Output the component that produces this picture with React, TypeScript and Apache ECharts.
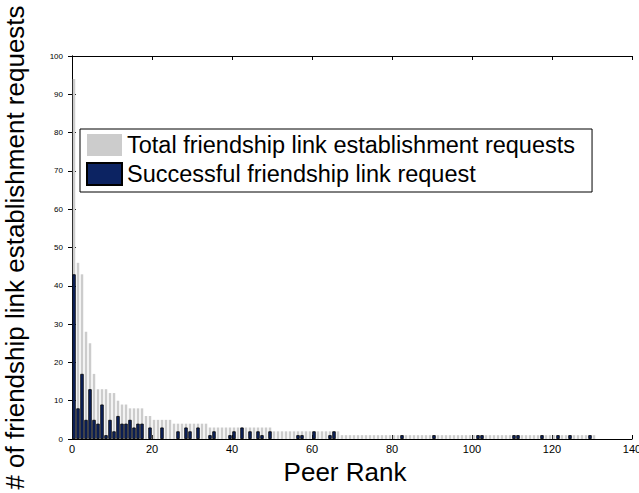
import React, { useEffect, useRef } from "react";
import * as echarts from "echarts";

// Peer ranks 1..131 (axis spans 0..140)
const totalRequests: number[] = [
  94, 46, 43, 28, 25, 17, 13, 13, 13, 12,
  12, 10, 9, 9, 8, 8, 8, 8, 6, 6,
  5, 5, 5, 5, 5, 4, 4, 4, 4, 4,
  4, 4, 4, 4, 3, 3, 3, 3, 3, 3,
  3, 3, 3, 3, 3, 3, 3, 3, 3, 3,
  2, 2, 2, 2, 2, 2, 2, 2, 2, 2,
  2, 2, 2, 2, 2, 2, 2, 1, 1, 1,
  1, 1, 1, 1, 1, 1, 1, 1, 1, 1,
  1, 1, 1, 1, 1, 1, 1, 1, 1, 1,
  1, 1, 1, 1, 1, 1, 1, 1, 1, 1,
  1, 1, 1, 1, 1, 1, 1, 1, 1, 1,
  1, 1, 1, 1, 1, 1, 1, 1, 1, 1,
  1, 1, 1, 1, 1, 1, 1, 1, 1, 1,
  1,
];

const successfulRequests: number[] = [
  43, 8, 17, 5, 13, 5, 4, 9, 1, 5,
  2, 6, 4, 4, 5, 3, 4, 4, 0, 3,
  0, 0, 3, 0, 0, 0, 2, 0, 3, 2,
  0, 3, 0, 0, 1, 2, 0, 0, 0, 1,
  2, 0, 3, 0, 2, 0, 2, 1, 0, 2,
  0, 0, 0, 0, 0, 0, 1, 1, 0, 0,
  2, 0, 0, 0, 1, 2, 0, 0, 0, 0,
  0, 0, 0, 0, 0, 0, 0, 0, 0, 0,
  0, 0, 1, 0, 0, 0, 0, 0, 0, 0,
  1, 0, 0, 0, 0, 0, 0, 0, 0, 0,
  0, 1, 1, 0, 0, 0, 0, 0, 0, 0,
  1, 1, 0, 0, 0, 0, 0, 1, 0, 0,
  0, 1, 0, 0, 1, 0, 0, 0, 0, 1,
  0,
];

const X_MAX = 140;
const Y_MAX = 100;
const ranks: number[] = Array.from({ length: X_MAX }, (_, i) => i + 1);

const seriesNames = [
  "Total friendship link establishment requests",
  "Successful friendship link request",
];

const FONT = "'Liberation Sans', Arial, Helvetica, sans-serif";
const W = 639;
const H = 493;

export default function App() {
  const ref = useRef<HTMLDivElement>(null);

  useEffect(() => {
    if (!ref.current) return;
    const chart = echarts.init(ref.current, undefined, { renderer: "svg", width: W, height: H });
    const frameAxis = {
      axisLine: { show: true, lineStyle: { color: "#000", width: 1 } },
      axisTick: { show: true, inside: true, length: 4, lineStyle: { color: "#000" } },
      splitLine: { show: false },
    };
    chart.setOption({
      animation: false,
      backgroundColor: "#fff",
      textStyle: { fontFamily: FONT, color: "#000" },
      grid: { left: 72, right: 7, top: 56, bottom: 54, containLabel: false, outerBoundsMode: "none" },
      legend: {
        show: true,
        orient: "vertical",
        left: 80,
        top: 129,
        data: seriesNames,
        icon: "rect",
        itemWidth: 35,
        itemHeight: 22,
        itemGap: 5,
        padding: [4, 17, 6, 6],
        borderColor: "#000",
        borderWidth: 1,
        backgroundColor: "#fff",
        textStyle: { fontFamily: FONT, fontSize: 23.5, color: "#000" },
      },
      xAxis: [
        { type: "category", data: ranks, show: false, boundaryGap: true, gridIndex: 0 },
        { type: "category", data: ranks, show: false, boundaryGap: true, gridIndex: 0 },
        {
          type: "value",
          position: "bottom",
          min: 0,
          max: X_MAX,
          interval: 20,
          ...frameAxis,
          axisLabel: { fontFamily: FONT, fontSize: 11, color: "#000", margin: 4 },
          name: "Peer Rank",
          nameLocation: "middle",
          nameGap: 13,
          nameTextStyle: {
            fontFamily: FONT,
            fontSize: 26,
            color: "#000",
            verticalAlign: "top",
            padding: [0, 14, 0, 0],
          },
        },
        {
          type: "value",
          position: "top",
          min: 0,
          max: X_MAX,
          interval: 20,
          ...frameAxis,
          axisLabel: { show: false },
        },
      ],
      yAxis: [
        {
          type: "value",
          position: "left",
          min: 0,
          max: Y_MAX,
          interval: 10,
          ...frameAxis,
          axisLabel: { fontFamily: FONT, fontSize: 8, color: "#000", margin: 9 },
          name: "# of friendship link establishment requests",
          nameLocation: "middle",
          nameRotate: 90,
          nameGap: 44,
          nameTextStyle: { fontFamily: FONT, fontSize: 26, color: "#000" },
        },
        {
          type: "value",
          position: "right",
          min: 0,
          max: Y_MAX,
          interval: 10,
          ...frameAxis,
          axisLabel: { show: false },
        },
      ],
      series: [
        {
          name: seriesNames[0],
          type: "bar",
          xAxisIndex: 0,
          yAxisIndex: 0,
          data: totalRequests,
          barWidth: "62%",
          itemStyle: { color: "#cccccc" },
          z: 1,
        },
        {
          name: seriesNames[1],
          type: "bar",
          xAxisIndex: 1,
          yAxisIndex: 0,
          data: successfulRequests.map((v) => (v === 0 ? "-" : v)),
          barWidth: "85%",
          itemStyle: { color: "#0c2362", borderColor: "#000", borderWidth: 0.8 },
          z: 2,
        },
      ],
    });
    return () => chart.dispose();
  }, []);

  return (
    <div
      ref={ref}
      style={{ position: "fixed", left: 0, top: 0, width: W, height: H, overflow: "hidden" }}
    />
  );
}
